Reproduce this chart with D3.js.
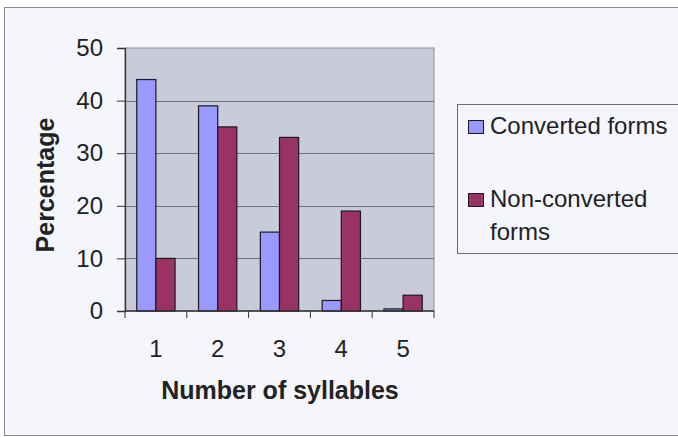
<!DOCTYPE html>
<html>
<head>
<meta charset="utf-8">
<script src="https://cdn.jsdelivr.net/npm/d3@7"></script>
<style>
  html, body { margin: 0; padding: 0; background: #ffffff; }
  svg { display: block; font-family: "Liberation Sans", Arial, sans-serif; }
</style>
</head>
<body>
<svg id="chart" width="678" height="437"></svg>
<script>
// Syllable counts on the x axis
const categories = ["1", "2", "3", "4", "5"];
// Percentage of forms per syllable count
const convertedValues = [44, 39, 15, 2, 0.4];
const nonConvertedValues = [10, 35, 33, 19, 3];
const seriesNames = ["Converted forms", "Non-converted forms"];
const yTicks = [0, 10, 20, 30, 40, 50];

const seriesColors = ["#9999ff", "#993366"];
const series = [convertedValues, nonConvertedValues];

const svg = d3.select("#chart");

// Chart-area background and frame
svg.append("rect")
  .attr("x", 4.5).attr("y", 7.5)
  .attr("width", 690).attr("height", 428)
  .attr("fill", "#f5f6fb")
  .attr("stroke", "#8a8a9a").attr("stroke-width", 1);

const plot = { left: 125, right: 434, top: 48, bottom: 311 };

const x = d3.scaleBand()
  .domain(categories)
  .range([plot.left, plot.right])
  .paddingInner(0.38)
  .paddingOuter(0.19);

const xSub = d3.scaleBand()
  .domain(d3.range(series.length))
  .range([0, x.bandwidth()]);

const y = d3.scaleLinear()
  .domain([0, 50])
  .range([plot.bottom, plot.top]);

// Plot area
svg.append("rect")
  .attr("x", plot.left).attr("y", plot.top)
  .attr("width", plot.right - plot.left)
  .attr("height", plot.bottom - plot.top)
  .attr("fill", "#c9cbda")
  .attr("stroke", "#8c8c96").attr("stroke-width", 1);

// Horizontal gridlines
svg.append("g")
  .selectAll("line")
  .data(yTicks.filter(t => t > 0 && t < 50))
  .join("line")
  .attr("x1", plot.left).attr("x2", plot.right)
  .attr("y1", d => Math.round(y(d)) + 0.5)
  .attr("y2", d => Math.round(y(d)) + 0.5)
  .attr("stroke", "#6e6e78").attr("stroke-width", 1);

// Bars
const groups = svg.append("g")
  .selectAll("g")
  .data(categories)
  .join("g")
  .attr("transform", d => `translate(${x(d)},0)`);

groups.selectAll("rect")
  .data((d, i) => series.map((s, k) => ({ k, v: s[i] })))
  .join("rect")
  .attr("x", d => xSub(d.k))
  .attr("y", d => y(d.v))
  .attr("width", xSub.bandwidth())
  .attr("height", d => y(0) - y(d.v))
  .attr("fill", d => seriesColors[d.k])
  .attr("stroke", "#1a1a1a").attr("stroke-width", 1.2);

// Y axis
const yAxis = svg.append("g")
  .attr("transform", `translate(${plot.left},0)`)
  .call(d3.axisLeft(y).tickValues(yTicks).tickSize(8).tickPadding(14).tickFormat(d3.format("d")));
yAxis.select(".domain").attr("stroke", "#333").attr("stroke-width", 1.3);
yAxis.selectAll(".tick line").attr("stroke", "#333");
yAxis.selectAll("text")
  .attr("font-size", 24).attr("fill", "#222")
  .attr("font-family", "Liberation Sans, Arial, sans-serif");

// X axis with tick marks at category boundaries
const xAxisG = svg.append("g")
  .attr("transform", `translate(0,${plot.bottom})`);
xAxisG.append("line")
  .attr("x1", plot.left).attr("x2", plot.right)
  .attr("stroke", "#333").attr("stroke-width", 1.3);
const boundaries = d3.range(categories.length + 1).map(i => plot.left + (plot.right - plot.left) * i / categories.length);
xAxisG.selectAll("line.tick")
  .data(boundaries)
  .join("line")
  .attr("class", "tick")
  .attr("x1", d => d).attr("x2", d => d)
  .attr("y1", 0).attr("y2", 7)
  .attr("stroke", "#333");
xAxisG.selectAll("text")
  .data(categories)
  .join("text")
  .attr("x", d => x(d) + x.bandwidth() / 2)
  .attr("y", 46)
  .attr("text-anchor", "middle")
  .attr("font-size", 24).attr("fill", "#222")
  .text(d => d);

// Axis titles
svg.append("text")
  .attr("x", 280).attr("y", 399)
  .attr("text-anchor", "middle")
  .attr("font-size", 25).attr("font-weight", "bold").attr("fill", "#222")
  .text("Number of syllables");

svg.append("text")
  .attr("transform", "translate(54,185) rotate(-90)")
  .attr("text-anchor", "middle")
  .attr("font-size", 25).attr("font-weight", "bold").attr("fill", "#222")
  .text("Percentage");

// Legend
const legend = svg.append("g");
legend.append("rect")
  .attr("x", 457.5).attr("y", 104.5)
  .attr("width", 240).attr("height", 149)
  .attr("fill", "#f5f6fb")
  .attr("stroke", "#6e6e78").attr("stroke-width", 1);

const legendRows = [
  { lines: ["Converted forms"], y: 134 },
  { lines: ["Non-converted", "forms"], y: 207 }
];
legendRows.forEach((row, i) => {
  legend.append("rect")
    .attr("x", 468.5).attr("y", row.y - 13.5)
    .attr("width", 15).attr("height", 13)
    .attr("fill", seriesColors[i])
    .attr("stroke", "#1a1a1a").attr("stroke-width", 1);
  const t = legend.append("text")
    .attr("x", 490).attr("y", row.y)
    .attr("font-size", 24).attr("fill", "#222");
  row.lines.forEach((ln, j) => {
    t.append("tspan").attr("x", 490).attr("dy", j === 0 ? 0 : 33).text(ln);
  });
});
</script>
</body>
</html>
